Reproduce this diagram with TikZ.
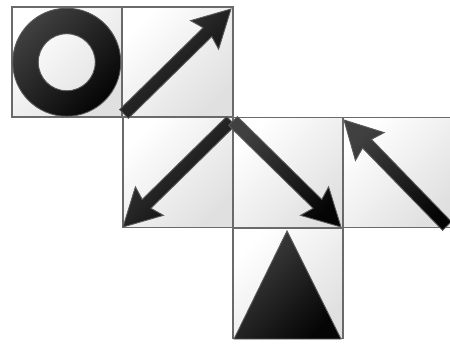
\documentclass[tikz,border=0pt]{standalone}
\usetikzlibrary{calc}
\definecolor{tileline}{HTML}{6A6A6A}
\definecolor{symline}{HTML}{5A5A5A}
\definecolor{symlight}{HTML}{404040}
\definecolor{symdark}{HTML}{050505}
\definecolor{tiledark}{HTML}{E0E0E0}
\tikzset{
  tile/.style={draw=tileline, line width=1.5pt, rectangle, anchor=south west, inner sep=0pt,
    minimum width=#1, minimum height=110pt, top color=white, bottom color=tiledark, shading angle=45},
  tile/.default=110pt,
  symbol/.style={draw=symline, line width=0.9pt, line join=miter, top color=symlight, bottom color=symdark, shading angle=45},
}
\newcommand\tarrow[3]{%
  \coordinate (#1b) at ($(#3)!37pt!(#2)$);
  \coordinate (#1n) at ($(#3)!33pt!(#2)$);
  \path[symbol] ($(#2)!6.2pt!90:(#3)$) -- ($(#1n)!6.2pt!90:(#3)$) -- ($(#1b)!20pt!90:(#3)$)
     -- (#3) -- ($(#1b)!20pt!-90:(#3)$) -- ($(#1n)!6.2pt!-90:(#3)$) -- ($(#2)!6.2pt!-90:(#3)$) -- cycle;
}
\begin{document}
\begin{tikzpicture}[x=1pt,y=1pt]
\useasboundingbox (0,0) rectangle (450,343);
\clip (0,0) rectangle (450,343);
% tiles
\node[tile] (A) at (11,225) {};
\node[tile=111pt] (B) at (121,225) {};
\node[tile] (C) at (122,114.5) {};
\node[tile] (D) at (232,114.5) {};
\node[tile] (E) at (342,114.5) {};
\node[tile] (F) at (232,4) {};
% ring
\path[symbol, even odd rule] (A.center) circle[radius=54] (A.center) circle[radius=28.5];
% arrows
\coordinate (Bt) at (124,229); \coordinate (Bh) at (231,334);
\coordinate (Ct) at (231,222); \coordinate (Ch) at (123,116);
\coordinate (Dt) at (233,222); \coordinate (Dh) at (341,116);
\coordinate (Et) at (447,117); \coordinate (Eh) at (344,223);
\tarrow{b}{Bt}{Bh}
\tarrow{c}{Ct}{Ch}
\tarrow{d}{Dt}{Dh}
\tarrow{e}{Et}{Eh}
% triangle
\path[symbol] (287,112) -- (341,4) -- (234,4) -- cycle;
\end{tikzpicture}
\end{document}
